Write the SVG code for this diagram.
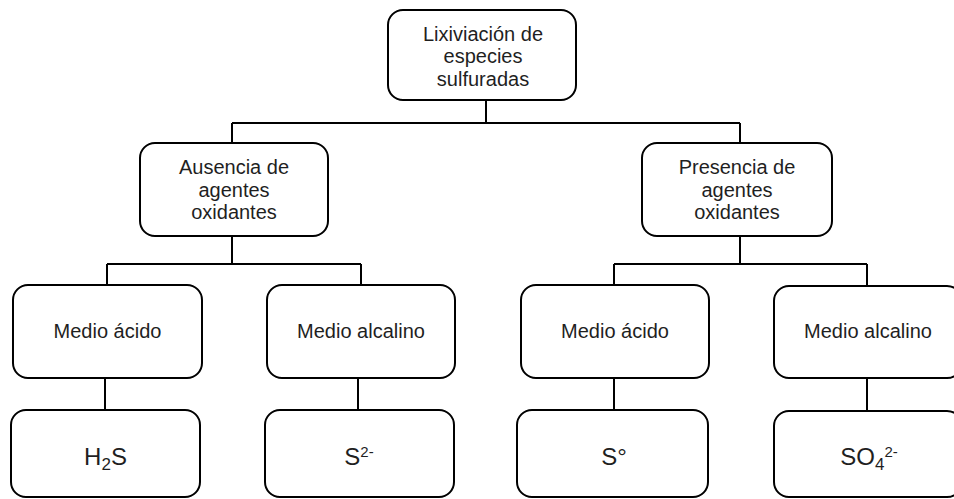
<svg xmlns="http://www.w3.org/2000/svg" width="954" height="499" viewBox="0 0 954 499">
<style>
.box{fill:#fff;stroke:#000;stroke-width:2}
.lbl{font-family:"Liberation Sans",Arial,sans-serif;font-size:20px;fill:#1f1f1f;text-anchor:middle}
.big{font-size:24px}
.conn{fill:none;stroke:#000;stroke-width:2}
</style>
<rect width="954" height="499" fill="#fff"/>
<g id="connectors">
<path class="conn" d="M486 100V123M232 123H740M232 123V143M740 123V143"/>
<path class="conn" d="M232 236V264M107 264H361M107 264V285M361 264V285"/>
<path class="conn" d="M740 236V264M614 264H867M614 264V285M867 264V285"/>
<path class="conn" d="M105 378V410M358 378V410M614 378V410M867 378V410"/>
</g>
<g id="n-root">
<rect class="box" x="388" y="10" width="188" height="90" rx="15"/>
<text class="lbl"><tspan x="483" y="41">Lixiviación de</tspan><tspan x="483" y="63">especies</tspan><tspan x="483" y="86">sulfuradas</tspan></text>
</g>
<g id="n-ausencia">
<rect class="box" x="140" y="143" width="188" height="93" rx="15"/>
<text class="lbl"><tspan x="234" y="174">Ausencia de</tspan><tspan x="234" y="197">agentes</tspan><tspan x="234" y="219">oxidantes</tspan></text>
</g>
<g id="n-presencia">
<rect class="box" x="642" y="143" width="190" height="93" rx="15"/>
<text class="lbl"><tspan x="737" y="174">Presencia de</tspan><tspan x="737" y="197">agentes</tspan><tspan x="737" y="219">oxidantes</tspan></text>
</g>
<g id="n-acido1">
<rect class="box" x="13" y="285" width="189" height="93" rx="15"/>
<text class="lbl" x="107.5" y="338">Medio ácido</text>
</g>
<g id="n-alcalino1">
<rect class="box" x="267" y="285" width="188" height="93" rx="15"/>
<text class="lbl" x="361" y="338">Medio alcalino</text>
</g>
<g id="n-acido2">
<rect class="box" x="521" y="285" width="188" height="93" rx="15"/>
<text class="lbl" x="615" y="338">Medio ácido</text>
</g>
<g id="n-alcalino2">
<rect class="box" x="774" y="286" width="188" height="92" rx="15"/>
<text class="lbl" x="868" y="338">Medio alcalino</text>
</g>
<g id="n-h2s">
<rect class="box" x="11" y="410" width="189" height="87" rx="15"/>
<text class="lbl big" x="105.5" y="465">H<tspan font-size="17" dy="5">2</tspan><tspan dy="-5">S</tspan></text>
</g>
<g id="n-s2">
<rect class="box" x="265" y="410" width="189" height="87" rx="15"/>
<text class="lbl big" x="359" y="465">S<tspan font-size="15" dy="-8">2-</tspan></text>
</g>
<g id="n-s0">
<rect class="box" x="517" y="410" width="191" height="87" rx="15"/>
<text class="lbl big" x="614" y="465">S°</text>
</g>
<g id="n-so4">
<rect class="box" x="774" y="411" width="188" height="86" rx="15"/>
<text class="lbl big" x="869" y="465">SO<tspan font-size="17" dy="5">4</tspan><tspan font-size="15" dy="-13">2-</tspan></text>
</g>
</svg>
